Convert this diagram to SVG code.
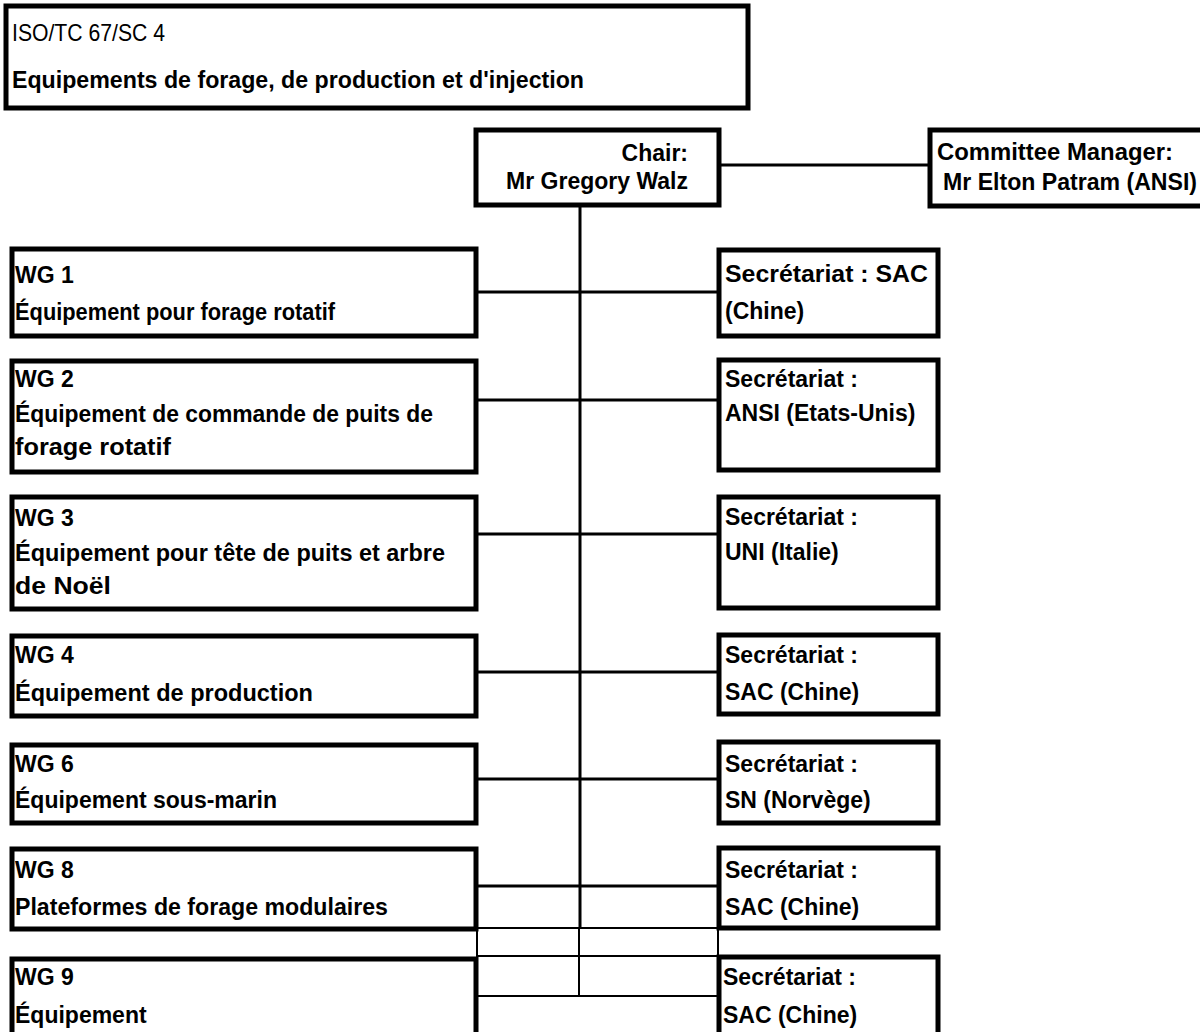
<svg xmlns="http://www.w3.org/2000/svg" width="1200" height="1032" viewBox="0 0 1200 1032">
<style>
.box{fill:#fff;stroke:#000;stroke-width:5}
.c{stroke:#000;stroke-width:3;fill:none}
.t{stroke:#000;stroke-width:2;fill:none}
text{font-family:"Liberation Sans",Arial,sans-serif;font-size:23px;font-weight:bold;fill:#000}
.r{font-weight:normal;font-size:24px}
</style>
<rect width="1200" height="1032" fill="#fff"/>
<g id="connectors">
<line class="c" x1="580" y1="205" x2="580" y2="928"/>
<line class="t" x1="579" y1="928" x2="579" y2="996"/>
<line class="c" x1="719" y1="165" x2="930" y2="165"/>
<line class="c" x1="476" y1="292" x2="719" y2="292"/>
<line class="c" x1="476" y1="400" x2="719" y2="400"/>
<line class="c" x1="476" y1="534" x2="719" y2="534"/>
<line class="c" x1="476" y1="672" x2="719" y2="672"/>
<line class="c" x1="476" y1="779" x2="719" y2="779"/>
<line class="c" x1="476" y1="886" x2="719" y2="886"/>
<line class="t" x1="476" y1="928" x2="719" y2="928"/>
<line class="t" x1="476" y1="956" x2="719" y2="956"/>
<line class="t" x1="476" y1="996" x2="719" y2="996"/>
<line class="t" x1="477" y1="928" x2="477" y2="957"/>
<line class="t" x1="718" y1="928" x2="718" y2="957"/>
</g>
<g id="header">
<rect class="box" x="6" y="6" width="742" height="102"/>
<text class="r" x="12" y="41" textLength="153" lengthAdjust="spacingAndGlyphs">ISO/TC 67/SC 4</text>
<text x="12" y="88" textLength="572" lengthAdjust="spacingAndGlyphs">Equipements de forage, de production et d'injection</text>
</g>
<g id="chair">
<rect class="box" x="476" y="130" width="243" height="75"/>
<text x="688" y="161" text-anchor="end">Chair:</text>
<text x="688" y="189" text-anchor="end">Mr Gregory Walz</text>
</g>
<g id="committee-manager">
<rect class="box" x="930" y="130" width="285" height="76"/>
<text x="937" y="160" textLength="236" lengthAdjust="spacingAndGlyphs">Committee Manager:</text>
<text x="943" y="190" textLength="254" lengthAdjust="spacingAndGlyphs">Mr Elton Patram (ANSI)</text>
</g>
<g id="wg1">
<rect class="box" x="12" y="249" width="464" height="87"/>
<text x="15" y="283">WG 1</text>
<text x="15" y="320" textLength="320" lengthAdjust="spacingAndGlyphs">Équipement pour forage rotatif</text>
</g>
<g id="wg2">
<rect class="box" x="12" y="361" width="464" height="111"/>
<text x="15" y="387">WG 2</text>
<text x="15" y="422" textLength="418" lengthAdjust="spacingAndGlyphs">Équipement de commande de puits de</text>
<text x="15" y="455" textLength="156" lengthAdjust="spacingAndGlyphs">forage rotatif</text>
</g>
<g id="wg3">
<rect class="box" x="12" y="497" width="464" height="112"/>
<text x="15" y="526">WG 3</text>
<text x="15" y="561" textLength="430" lengthAdjust="spacingAndGlyphs">Équipement pour tête de puits et arbre</text>
<text x="15" y="594" textLength="96" lengthAdjust="spacingAndGlyphs">de Noël</text>
</g>
<g id="wg4">
<rect class="box" x="12" y="636" width="464" height="80"/>
<text x="15" y="663">WG 4</text>
<text x="15" y="701" textLength="298" lengthAdjust="spacingAndGlyphs">Équipement de production</text>
</g>
<g id="wg6">
<rect class="box" x="12" y="745" width="464" height="78"/>
<text x="15" y="772">WG 6</text>
<text x="15" y="808">Équipement sous-marin</text>
</g>
<g id="wg8">
<rect class="box" x="12" y="849" width="464" height="80"/>
<text x="15" y="878">WG 8</text>
<text x="15" y="915" textLength="373" lengthAdjust="spacingAndGlyphs">Plateformes de forage modulaires</text>
</g>
<g id="wg9">
<rect class="box" x="12" y="959" width="464" height="100"/>
<text x="15" y="985">WG 9</text>
<text x="15" y="1023">Équipement</text>
</g>
<g id="sec1">
<rect class="box" x="719" y="250" width="219" height="86"/>
<text x="725" y="282" textLength="203" lengthAdjust="spacingAndGlyphs">Secrétariat : SAC</text>
<text x="725" y="319">(Chine)</text>
</g>
<g id="sec2">
<rect class="box" x="719" y="360" width="219" height="110"/>
<text x="725" y="387">Secrétariat :</text>
<text x="725" y="421">ANSI (Etats-Unis)</text>
</g>
<g id="sec3">
<rect class="box" x="719" y="497" width="219" height="111"/>
<text x="725" y="525">Secrétariat :</text>
<text x="725" y="560">UNI (Italie)</text>
</g>
<g id="sec4">
<rect class="box" x="719" y="635" width="219" height="79"/>
<text x="725" y="663">Secrétariat :</text>
<text x="725" y="700">SAC (Chine)</text>
</g>
<g id="sec6">
<rect class="box" x="719" y="742" width="219" height="81"/>
<text x="725" y="772">Secrétariat :</text>
<text x="725" y="808">SN (Norvège)</text>
</g>
<g id="sec8">
<rect class="box" x="719" y="848" width="219" height="80"/>
<text x="725" y="878">Secrétariat :</text>
<text x="725" y="915">SAC (Chine)</text>
</g>
<g id="sec9">
<rect class="box" x="719" y="957" width="219" height="100"/>
<text x="723" y="985">Secrétariat :</text>
<text x="723" y="1023">SAC (Chine)</text>
</g>
</svg>
